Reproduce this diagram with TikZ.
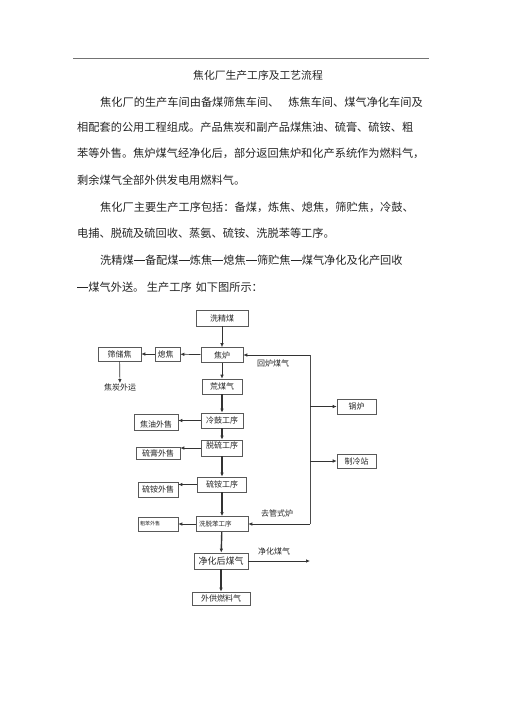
\documentclass[tikz,border=0pt]{standalone}
\usepackage{fontspec}
\setmainfont{Noto Sans CJK SC}
\usetikzlibrary{arrows.meta}
\newcommand\cdash{\rule[0.36em]{1em}{0.45pt}}

\begin{document}
\begin{tikzpicture}[x=1pt,y=-1pt]
    \tikzstyle{every node}+=[inner sep=0pt, text=black!85]
    \tikzstyle{para}=[anchor=base west, font=\fontsize{11.2}{11.2}\selectfont]
    \tikzstyle{box}=[draw=black!65, line width=0.6pt, font=\fontsize{8}{8}\selectfont]
    \tikzstyle{arr}=[draw=black!80, line width=0.7pt, -{Latex[length=4pt,width=3.5pt]}]
    \tikzstyle{arrb}=[arr, line width=1.4pt]
    \tikzstyle{lbl}=[font=\fontsize{8}{8}\selectfont]
    \useasboundingbox (0,0) rectangle (505,714);
    \fill [white] (0,0) rectangle (505,714);
    % header rule and text
    \draw [black!55, line width=0.5pt] (73,58) -- (429,58);
    \node [font=\fontsize{10.8}{10.8}\selectfont] (title) at (258,75) {焦化厂生产工序及工艺流程};
    \node [para] (p1) at (100,107) {焦化厂的生产车间由备煤筛焦车间、\hspace{9pt}炼焦车间、煤气净化车间及};
    \node [para] (p2) at (77,132) {相配套的公用工程组成。产品焦炭和副产品煤焦油、硫膏、硫铵、粗};
    \node [para] (p3) at (77,158) {苯等外售。焦炉煤气经净化后，部分返回焦炉和化产系统作为燃料气，};
    \node [para] (p4) at (77,185) {剩余煤气全部外供发电用燃料气。};
    \node [para] (p5) at (100,211) {焦化厂主要生产工序包括：备煤，炼焦、熄焦，筛贮焦，冷鼓、};
    \node [para] (p6) at (77,237) {电捕、脱硫及硫回收、蒸氨、硫铵、洗脱苯等工序。};
    \node [para] (p7) at (100,264) {洗精煤\cdash 备配煤\cdash 炼焦\cdash 熄焦\cdash 筛贮焦\cdash 煤气净化及化产回收};
    \node [para] (p8) at (77,291) {\cdash 煤气外送。 生产工序\hspace{4pt}如下图所示：};
    % main column
    \node [box, minimum width=52pt, minimum height=16pt] (wash) at (222,318) {洗精煤};
    \node [box, minimum width=42pt, minimum height=15pt] (oven) at (222,355) {焦炉};
    \node [box, minimum width=40pt, minimum height=15pt] (raw) at (222,386.5) {荒煤气};
    \node [box, minimum width=42pt, minimum height=15pt] (cool) at (222,420.5) {冷鼓工序};
    \node [box, minimum width=41pt, minimum height=16pt, text height=4pt, text depth=4pt] (desulf) at (222,448) {脱硫工序};
    \node [box, minimum width=49pt, minimum height=15pt] (amm) at (222,484.5) {硫铵工序};
    \node [box, minimum width=52pt, minimum height=15pt, font=\fontsize{6.5}{6.5}\selectfont, text width=46pt, align=left] (benz) at (222,524) {洗脱苯工序};
    \node [box, minimum width=54pt, minimum height=16pt, font=\fontsize{9}{9}\selectfont] (clean) at (221,561) {净化后煤气};
    \node [box, minimum width=58pt, minimum height=13pt] (fuel) at (221,598.5) {外供燃料气};
    % left side
    \node [box, minimum width=43pt, minimum height=14pt] (screen) at (119.5,354) {筛储焦};
    \node [box, minimum width=25pt, minimum height=14pt, text width=20pt, align=left] (quench) at (167.5,354) {熄焦};
    \node [box, minimum width=44pt, minimum height=16pt, text height=11pt, text depth=0pt] (tar) at (156,422) {焦油外售};
    \node [box, minimum width=44pt, minimum height=12pt] (sulfur) at (158,453) {硫膏外售};
    \node [box, minimum width=40pt, minimum height=15pt] (ammsale) at (158,489.5) {硫铵外售};
    \node [box, minimum width=40pt, minimum height=14pt, font=\fontsize{5}{5}\selectfont, text width=36pt, align=left] (crude) at (158,524) {粗苯外售};
    \node [lbl] (cokeout) at (120,387) {焦炭外运};
    % right side
    \node [box, minimum width=39pt, minimum height=15pt] (boiler) at (356.5,406.5) {锅炉};
    \node [box, minimum width=39pt, minimum height=14pt] (chill) at (356.5,461) {制冷站};
    \coordinate (trunktop) at (310,355);
    \coordinate (trunkbot) at (310,524);
    \coordinate (cleanend) at (310,561);
    \node [lbl] (backlbl) at (273,363) {回炉煤气};
    \node [lbl] (tubelbl) at (277,513) {去管式炉};
    \node [lbl] (cleanlbl) at (274,551) {净化煤气};
    % connectors
    \draw [arr] (wash) -- (oven);
    \draw [arr] (oven) -- (raw);
    \draw [arrb] (raw) -- (cool);
    \draw [arrb] (cool) -- (desulf);
    \draw [arrb] (desulf) -- (amm);
    \draw [arrb] (amm) -- (benz);
    \draw [arrb] (benz) -- (clean);
    \draw [arrb] (clean) -- (fuel);
    \draw [arr] (oven) -- (quench);
    \draw [arr] (quench) -- (screen);
    \draw [arr] (screen) -- (cokeout);
    \draw [arr] (cool.west) -- (cool.west -| tar.east);
    \draw [arr] (desulf.west) -- (desulf.west -| sulfur.east);
    \draw [arr] (amm.west) -- (amm.west -| ammsale.east);
    \draw [arr] (benz) -- (crude);
    \draw [black!70, line width=0.7pt] (trunktop) -- (trunkbot);
    \draw [arr] (trunktop) -- (oven);
    \draw [arr] (trunkbot) -- (benz);
    \draw [arr] (trunktop |- boiler) -- (boiler);
    \draw [arr] (trunktop |- chill) -- (chill);
    \draw [arr] (clean) -- (cleanend);
\end{tikzpicture}
\end{document}
